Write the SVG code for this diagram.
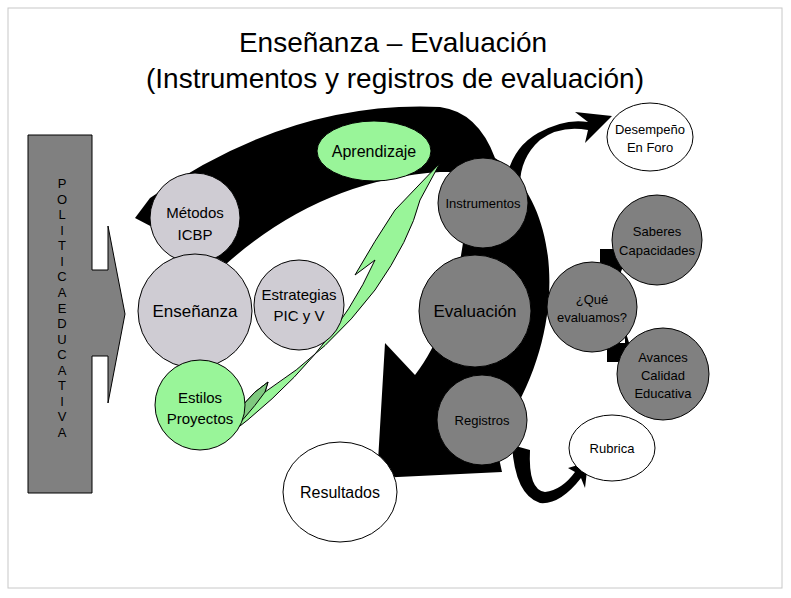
<svg xmlns="http://www.w3.org/2000/svg" width="791" height="598" viewBox="0 0 791 598">
<style>
text{font-family:"Liberation Sans",Arial,sans-serif;text-anchor:middle;fill:#000}
.lg{fill:#cfccd3;stroke:#000;stroke-width:1}
.gr{fill:#808080;stroke:#000;stroke-width:1}
.gn{fill:#99f599;stroke:#000;stroke-width:1}
.wh{fill:#fff;stroke:#000;stroke-width:1}
.blk{fill:#000}
</style>
<rect width="791" height="598" fill="#fff"/>
<rect x="8" y="8" width="774" height="580" fill="none" stroke="#c8c8c8"/>
<text x="393" y="52" font-size="28">Enseñanza – Evaluación</text>
<text x="395" y="88" font-size="28">(Instrumentos y registros de evaluación)</text>
<g id="politica">
<polygon points="28,135 92,135 92,270 108,270 108,226 125,314 108,403 108,356 92,356 92,493 28,493" fill="#808080" stroke="#000"/>
<text font-size="13"><tspan x="62" y="188">P</tspan><tspan x="62" y="204">O</tspan><tspan x="62" y="219">L</tspan><tspan x="62" y="235">I</tspan><tspan x="62" y="250">T</tspan><tspan x="62" y="266">I</tspan><tspan x="62" y="281">C</tspan><tspan x="62" y="297">A</tspan><tspan x="62" y="313">E</tspan><tspan x="62" y="328">D</tspan><tspan x="62" y="344">U</tspan><tspan x="62" y="359">C</tspan><tspan x="62" y="375">A</tspan><tspan x="62" y="390">T</tspan><tspan x="62" y="406">I</tspan><tspan x="62" y="421">V</tspan><tspan x="62" y="437">A</tspan></text>
</g>
<g id="connectors">
<path class="blk" d="M135,218 L150,198 Q290,100 440,107 Q478,112 495,158 C565,205 570,340 495,440 L502,472 L377,478 L385,343 L415,375 C450,330 465,260 470,172 L440,172 Q320,180 225,265 Z"/>
<path d="M222,440 Q330,360 375,260 L355,275 Q375,240 395,210 L440,163 L420,200 Q410,240 375,290 Q330,350 265,392 L268,382 Q240,400 222,440 Z" fill="#99f599" stroke="#000"/>
<path d="M222,440 Q245,420 265,392 L268,382 Q240,400 222,440 Z" fill="#7fc97f" stroke="#000"/>
<path class="blk" d="M505,190 Q508,150 538,133 Q565,118 588,122 L575,112 L612,116 L585,143 L588,130 Q560,125 540,140 Q520,158 520,185 Z"/>
<path class="blk" d="M512,445 L530,450 Q528,490 545,492 Q562,490 575,472 L568,468 L588,462 L585,488 L581,478 Q560,505 540,503 Q515,495 512,445 Z"/>
<path class="blk" d="M600,249 H618 V238 L626,258 L618,280 V270 H600 Z"/>
<path class="blk" d="M607,343 H625 V330 L632,352 L625,371 V362 H607 Z"/>
</g>
<g id="metodos"><circle class="lg" cx="195" cy="218" r="45"/><text font-size="15"><tspan x="195" y="218">Métodos</tspan><tspan x="195" y="240">ICBP</tspan></text></g>
<g id="ensenanza"><circle class="lg" cx="195" cy="311" r="57"/><text x="195" y="317" font-size="17">Enseñanza</text></g>
<g id="estrategias"><circle class="lg" cx="299" cy="305" r="45"/><text font-size="15"><tspan x="299" y="300">Estrategias</tspan><tspan x="299" y="321">PIC y V</tspan></text></g>
<g id="estilos"><circle class="gn" cx="200" cy="405" r="45"/><text font-size="15"><tspan x="200" y="403">Estilos</tspan><tspan x="200" y="424">Proyectos</tspan></text></g>
<g id="aprendizaje"><ellipse class="gn" cx="374" cy="151" rx="57" ry="30"/><text x="374" y="157" font-size="16">Aprendizaje</text></g>
<g id="instrumentos"><circle class="gr" cx="483" cy="203" r="45"/><text x="483" y="208" font-size="13">Instrumentos</text></g>
<g id="evaluacion"><circle class="gr" cx="475" cy="311" r="56"/><text x="475" y="317" font-size="17">Evaluación</text></g>
<g id="registros"><circle class="gr" cx="482" cy="420" r="45"/><text x="482" y="425" font-size="13">Registros</text></g>
<g id="resultados"><ellipse class="wh" cx="340" cy="492" rx="57" ry="50"/><text x="340" y="498" font-size="16">Resultados</text></g>
<g id="desempeno"><ellipse class="wh" cx="650" cy="137" rx="43" ry="34"/><text font-size="13"><tspan x="650" y="134">Desempeño</tspan><tspan x="650" y="152">En Foro</tspan></text></g>
<g id="saberes"><circle class="gr" cx="657" cy="240" r="45"/><text font-size="13"><tspan x="657" y="236">Saberes</tspan><tspan x="657" y="255">Capacidades</tspan></text></g>
<g id="que"><circle class="gr" cx="592" cy="307" r="45"/><text font-size="13"><tspan x="592" y="304">¿Qué</tspan><tspan x="592" y="322">evaluamos?</tspan></text></g>
<g id="avances"><circle class="gr" cx="663" cy="374" r="46"/><text font-size="13"><tspan x="663" y="362">Avances</tspan><tspan x="663" y="380">Calidad</tspan><tspan x="663" y="398">Educativa</tspan></text></g>
<g id="rubrica"><ellipse class="wh" cx="612" cy="448" rx="43" ry="33"/><text x="612" y="453" font-size="13">Rubrica</text></g>
</svg>
